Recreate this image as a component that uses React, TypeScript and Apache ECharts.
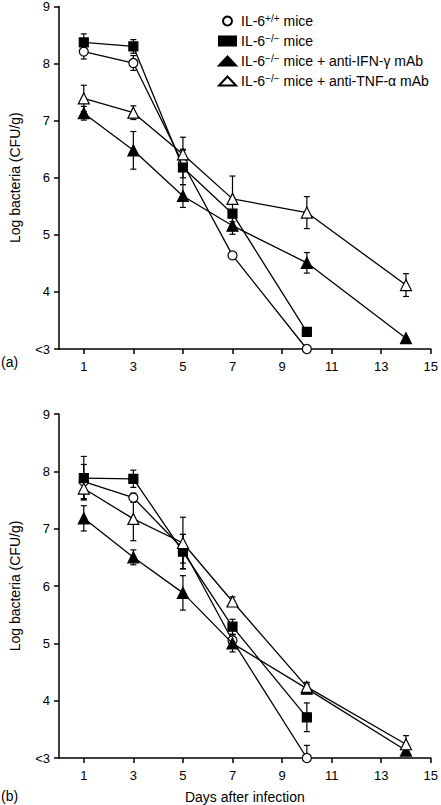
import React, { useEffect, useRef } from 'react';
import * as echarts from 'echarts';

const FONT = '"Liberation Sans", Arial, Helvetica, sans-serif';
const X_TICKS = [1, 3, 5, 7, 9, 11, 13, 15];
const Y_MIN = 3;
const Y_MAX = 9;
const Y_LABEL = 'Log bacteria (CFU/g)';
const X_LABEL = 'Days after infection';
const PANEL_LABELS = ['(a)', '(b)'];

const NAMES = [
  'IL-6+/+ mice',
  'IL-6−/− mice',
  'IL-6−/− mice + anti-IFN-γ mAb',
  'IL-6−/− mice + anti-TNF-α mAb',
];

// Panel (a)
const A_DAYS_WT = [1, 3, 5, 7, 10];
const A_WT = [8.21, 8.01, 6.25, 4.64, 3.0];
const A_WT_ERR = [0.13, 0.13, 0.25, 0, 0];
const A_DAYS_KO = [1, 3, 5, 7, 10];
const A_KO = [8.37, 8.3, 6.18, 5.37, 3.3];
const A_KO_ERR = [0.15, 0.12, 0.3, 0, 0];
const A_DAYS_IFN = [1, 3, 5, 7, 10, 14];
const A_IFN = [7.13, 6.48, 5.68, 5.16, 4.51, 3.19];
const A_IFN_ERR = [0.12, 0.33, 0.2, 0.15, 0.18, 0];
const A_DAYS_TNF = [1, 3, 5, 7, 10, 14];
const A_TNF = [7.39, 7.14, 6.41, 5.63, 5.39, 4.12];
const A_TNF_ERR = [0.23, 0.12, 0.3, 0.4, 0.28, 0.2];

// Panel (b)
const B_DAYS_WT = [1, 3, 5, 7, 10];
const B_WT = [7.82, 7.54, 6.65, 5.05, 3.0];
const B_WT_ERR = [0.3, 0.08, 0.25, 0.1, 0.22];
const B_DAYS_KO = [1, 3, 5, 7, 10];
const B_KO = [7.88, 7.87, 6.6, 5.29, 3.71];
const B_KO_ERR = [0.38, 0.15, 0.3, 0.13, 0.25];
const B_DAYS_IFN = [1, 3, 5, 7, 10, 14];
const B_IFN = [7.18, 6.5, 5.88, 5.0, 4.21, 3.13];
const B_IFN_ERR = [0.22, 0.13, 0.3, 0.15, 0.08, 0.05];
const B_DAYS_TNF = [1, 3, 5, 7, 10, 14];
const B_TNF = [7.7, 7.17, 6.75, 5.73, 4.24, 3.24];
const B_TNF_ERR = [0.18, 0.38, 0.45, 0.08, 0.08, 0.15];

const STYLES = [
  { symbol: 'circle', size: 9, fill: '#fff' },
  { symbol: 'rect', size: 9, fill: '#000' },
  { symbol: 'triangle', size: 11, fill: '#000' },
  { symbol: 'triangle', size: 11, fill: '#fff' },
];

const PANELS = [
  [
    [A_DAYS_WT, A_WT, A_WT_ERR],
    [A_DAYS_KO, A_KO, A_KO_ERR],
    [A_DAYS_IFN, A_IFN, A_IFN_ERR],
    [A_DAYS_TNF, A_TNF, A_TNF_ERR],
  ],
  [
    [B_DAYS_WT, B_WT, B_WT_ERR],
    [B_DAYS_KO, B_KO, B_KO_ERR],
    [B_DAYS_IFN, B_IFN, B_IFN_ERR],
    [B_DAYS_TNF, B_TNF, B_TNF_ERR],
  ],
];

function errSeries(idx: number, days: number[], vals: number[], errs: number[]) {
  return {
    type: 'custom',
    xAxisIndex: idx,
    yAxisIndex: idx,
    z: 1,
    silent: true,
    clip: false,
    data: days.map((d, i) => [d, vals[i], errs[i]]),
    renderItem: (_p: any, api: any) => {
      const x = api.value(0);
      const v = api.value(1);
      const e = api.value(2);
      if (!e) return null;
      const lo = Math.max(Y_MIN, v - e);
      const hi = v + e;
      const pHi = api.coord([x, hi]);
      const pLo = api.coord([x, lo]);
      const cw = 3;
      const st = { stroke: '#000', lineWidth: 1.2 };
      const children: any[] = [
        { type: 'line', shape: { x1: pHi[0], y1: pHi[1], x2: pLo[0], y2: pLo[1] }, style: st },
        { type: 'line', shape: { x1: pHi[0] - cw, y1: pHi[1], x2: pHi[0] + cw, y2: pHi[1] }, style: st },
      ];
      if (lo > Y_MIN) {
        children.push({ type: 'line', shape: { x1: pLo[0] - cw, y1: pLo[1], x2: pLo[0] + cw, y2: pLo[1] }, style: st });
      }
      return { type: 'group', children };
    },
  };
}

export default function App() {
  const ref = useRef<HTMLDivElement>(null);
  useEffect(() => {
    if (!ref.current) return;
    const chart = echarts.init(ref.current, undefined, { renderer: 'svg' });
    const grids = [
      { left: 47, right: 8, top: 5, height: 344 },
      { left: 47, right: 8, top: 414, height: 344 },
    ];
    const xAxes = grids.map((_, i) => ({
      type: 'value',
      gridIndex: i,
      min: 0,
      max: 15,
      name: i === 1 ? X_LABEL : '',
      nameLocation: 'middle',
      nameGap: 32,
      nameTextStyle: { fontSize: 14, color: '#000', fontFamily: FONT },
      axisLine: { lineStyle: { color: '#000', width: 1.5 } },
      axisTick: { customValues: X_TICKS, length: 5, lineStyle: { color: '#000', width: 1.5 } },
      axisLabel: { customValues: X_TICKS, fontSize: 13, color: '#000', fontFamily: FONT, margin: 11 },
      splitLine: { show: false },
    }));
    const yAxes = grids.map((_, i) => ({
      type: 'value',
      gridIndex: i,
      min: Y_MIN,
      max: Y_MAX,
      interval: 1,
      name: Y_LABEL,
      nameLocation: 'middle',
      nameGap: 37,
      nameTextStyle: { fontSize: 14, color: '#000', fontFamily: FONT },
      axisLine: { lineStyle: { color: '#000', width: 1.5 } },
      axisTick: { length: 5, lineStyle: { color: '#000', width: 1.5 } },
      axisLabel: {
        fontSize: 13,
        color: '#000',
        fontFamily: FONT,
        margin: 9,
        formatter: (v: number) => (v === Y_MIN ? '<3' : String(v)),
      },
      splitLine: { show: false },
    }));
    const series: any[] = [];
    PANELS.forEach((panel, pi) => {
      panel.forEach(([days, vals, errs], si) => {
        series.push(errSeries(pi, days as number[], vals as number[], errs as number[]));
        const s = STYLES[si];
        series.push({
          type: 'line',
          name: NAMES[si],
          xAxisIndex: pi,
          yAxisIndex: pi,
          z: 2 + si,
          clip: false,
          data: (days as number[]).map((d, i) => [d, (vals as number[])[i]]),
          symbol: s.symbol,
          symbolSize: s.size,
          showAllSymbol: true,
          lineStyle: { color: '#000', width: 1.3 },
          itemStyle: { color: s.fill, borderColor: '#000', borderWidth: 1.2 },
          emphasis: { disabled: true },
        });
      });
    });
    chart.setOption({
      animation: false,
      backgroundColor: '#fff',
      textStyle: { fontFamily: FONT },
      grid: grids,
      xAxis: xAxes,
      yAxis: yAxes,
      legend: {
        left: 213,
        top: 8,
        orient: 'vertical',
        itemWidth: 17,
        itemHeight: 9,
        itemGap: 4,
        selectedMode: false,
        data: NAMES.map((n, i) => ({ name: n, icon: STYLES[i].symbol })),
        formatter: (n: string) => n.replace(/^IL-6(\+\/\+|−\/−)/, 'IL-6{sup|$1}'),
        textStyle: {
          fontSize: 14,
          color: '#000',
          fontFamily: FONT,
          lineHeight: 16,
          rich: { sup: { fontSize: 10, verticalAlign: 'top', lineHeight: 10, fontFamily: FONT, color: '#000' } },
        },
      },
      graphic: [
        { type: 'text', left: 1, top: 355, style: { text: PANEL_LABELS[0], fontSize: 14, fill: '#000', font: `14px ${FONT}` } },
        { type: 'text', left: 1, top: 789, style: { text: PANEL_LABELS[1], fontSize: 14, fill: '#000', font: `14px ${FONT}` } },
      ],
      series,
    });
    return () => chart.dispose();
  }, []);
  return <div ref={ref} style={{ position: 'absolute', left: 0, top: 0, width: 441, height: 805 }} />;
}
